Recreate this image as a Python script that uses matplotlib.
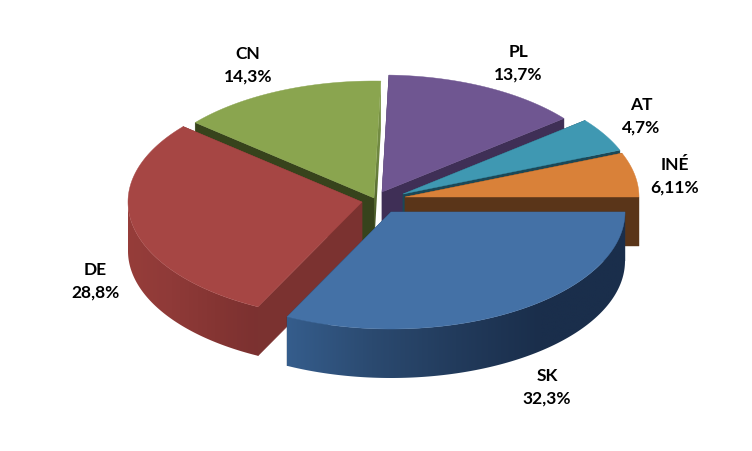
import matplotlib
matplotlib.use("Agg")
import matplotlib.pyplot as plt
import numpy as np
from matplotlib.colors import LinearSegmentedColormap
from matplotlib.patches import Polygon

labels = ["SK", "DE", "CN", "PL", "AT", "INÉ"]
shares = [32.3, 28.8, 14.3, 13.7, 4.7, 6.11]
share_text = ["32,3%", "28,8%", "14,3%", "13,7%", "4,7%", "6,11%"]

# look of the slices
top_colors = ["#4471a6", "#a64644", "#8aa54f", "#6f5691", "#3f98b2", "#d98139"]
cut_colors = ["#1d3553", "#7b3230", "#37431c", "#3f2f56", "#1b4857", "#5a3519"]
wall_stops = {
    0: ["#355d8c", "#2b4a70", "#223b5c", "#1a2e4b", "#1a2e4b"],
    1: ["#963d3a", "#8f3a38", "#853533", "#7b3130"],
}

# layout in pixels
cx, cy = 380, 200
rx, ry = 234, 117
depth = 49
explode = [(11, 13), (-18, 3), (-6, -1), (2, -7), (23, -5), (25, -2)]
label_pos = [(547, 375), (95, 269), (248, 53), (518, 51), (641, 104), (675, 164)]
line_gap = 22.5
draw_order = [3, 4, 5, 2, 1, 0]


def gradient_fill(ax, pts, colors, z, vertical=False):
    # image clipped to the polygon, quads left seams
    pts = np.array(pts)
    x0, x1 = pts[:, 0].min(), pts[:, 0].max()
    y0, y1 = pts[:, 1].min(), pts[:, 1].max()
    cmap = LinearSegmentedColormap.from_list("wall", colors)
    ramp = np.linspace(0, 1, 256)
    ramp = ramp[:, None] if vertical else ramp[None, :]
    im = ax.imshow(ramp, cmap=cmap, extent=(x0, x1, y1, y0), aspect="auto",
                   interpolation="bilinear", zorder=z)
    im.set_clip_path(Polygon(pts, transform=ax.transData))


fig = plt.figure(figsize=(7.52, 4.52), dpi=100)
ax = fig.add_axes([0, 0, 1, 1])

ends = np.cumsum(shares) / np.sum(shares) * 2 * np.pi
starts = np.concatenate([[0], ends[:-1]])

# back slices first, SK goes on top of everything
for z, i in enumerate(draw_order):
    x0 = cx + explode[i][0]
    y0 = cy + explode[i][1]
    t = -np.linspace(starts[i], ends[i], 200)
    xs = x0 + rx * np.cos(t)
    ys = y0 - ry * np.sin(t)

    # cut faces along both straight edges
    for j in [0, -1]:
        face = [(x0, y0), (xs[j], ys[j]), (xs[j], ys[j] + depth), (x0, y0 + depth)]
        if labels[i] == "CN" and j == -1:
            # the thin strip beside the gap, lit at the top
            gradient_fill(ax, face, ["#7d9747", "#6d8540", "#37431c"], z + 1, vertical=True)
        else:
            ax.fill(*zip(*face), color=cut_colors[i], lw=0.3, zorder=z + 1)

    # outer wall, only the part that faces the viewer
    front = np.sin(t) < 0
    if front.sum() > 1:
        fx, fy = xs[front], ys[front]
        wall = list(zip(fx, fy)) + list(zip(fx[::-1], fy[::-1] + depth))
        gradient_fill(ax, wall, wall_stops[i], z + 1)

    # top face
    ax.fill(np.r_[x0, xs], np.r_[y0, ys], color=top_colors[i], lw=0.3, zorder=z + 1)

for name, txt, (lx, ly) in zip(labels, share_text, label_pos):
    ax.text(lx, ly + 1, name, ha="center", va="center", family="Lato", fontweight="bold",
            fontsize=12.5, color="black", zorder=20)
    ax.text(lx, ly + 1 + line_gap, txt, ha="center", va="center", family="Lato", fontweight="bold",
            fontsize=12.5, color="black", zorder=20)

ax.set_xlim(0, 752)
ax.set_ylim(452, 0)
ax.axis("off")

fig.savefig("out.png", dpi=100)
